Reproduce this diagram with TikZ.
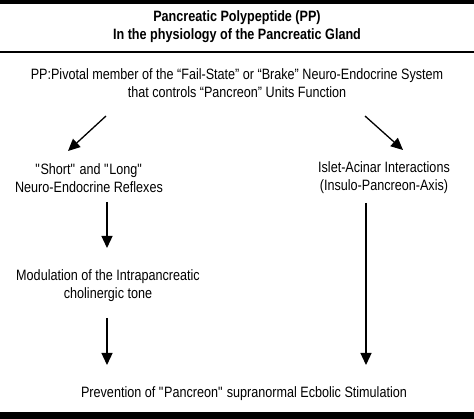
\documentclass[tikz,border=0pt]{standalone}
\usepackage{fontspec}
\setmainfont{Liberation Sans}[FakeStretch=0.84]
\usetikzlibrary{arrows.meta}
\tikzset{
	txt/.style={align=center,font=\fontsize{15}{18}\selectfont,inner sep=1pt},
	arr/.style={line width=1.3pt,-{Triangle[width=11pt,length=12pt]}}
}
\newcommand{\sq}{\textquotedbl}
\begin{document}
\begin{tikzpicture}[x=1pt,y=-1pt]
		\useasboundingbox (0,0) rectangle (474,419);
		\fill (0,0) rectangle (474,4);
		\fill (0,412.5) rectangle (474,419);
		\draw[line width=2pt] (0,52) -- (474,52);
		\node[txt,font=\fontsize{15}{18}\selectfont\bfseries] (title) at (237,27) {Pancreatic Polypeptide (PP)\\In the physiology of the Pancreatic Gland};
		\node[txt] (pp) at (237,83) {PP:Pivotal member of the “Fail-State” or “Brake” Neuro-Endocrine System\\that controls “Pancreon” Units Function};
		\node[txt] (short) at (89,178) {\sq Short\sq{} and \sq Long\sq\\Neuro-Endocrine Reflexes};
		\node[txt] (islet) at (384,178) {Islet-Acinar Interactions\\(Insulo-Pancreon-Axis)};
		\node[txt] (mod) at (108,286) {Modulation of the Intrapancreatic\\cholinergic tone};
		\node[txt] (prev) at (244,394) {Prevention of \sq Pancreon\sq{} supranormal Ecbolic Stimulation};
		\draw[arr] ([shift={(-131,33)}]pp.center) -- ([shift={(-21,-27)}]short.center);
		\draw[arr] ([shift={(128,33)}]pp.center) -- ([shift={(19,-28)}]islet.center);
		\draw[arr] ([shift={(18,24)}]short.center) -- ([shift={(-1,-38)}]mod.center);
		\draw[arr] ([shift={(-1,32)}]mod.center) -- ([shift={(-1,-29)}]mod.center |- prev.center);
		\draw[arr] ([shift={(-18,25)}]islet.center) -- ([shift={(-18,-29)}]islet.center |- prev.center);
	\end{tikzpicture}
\end{document}
